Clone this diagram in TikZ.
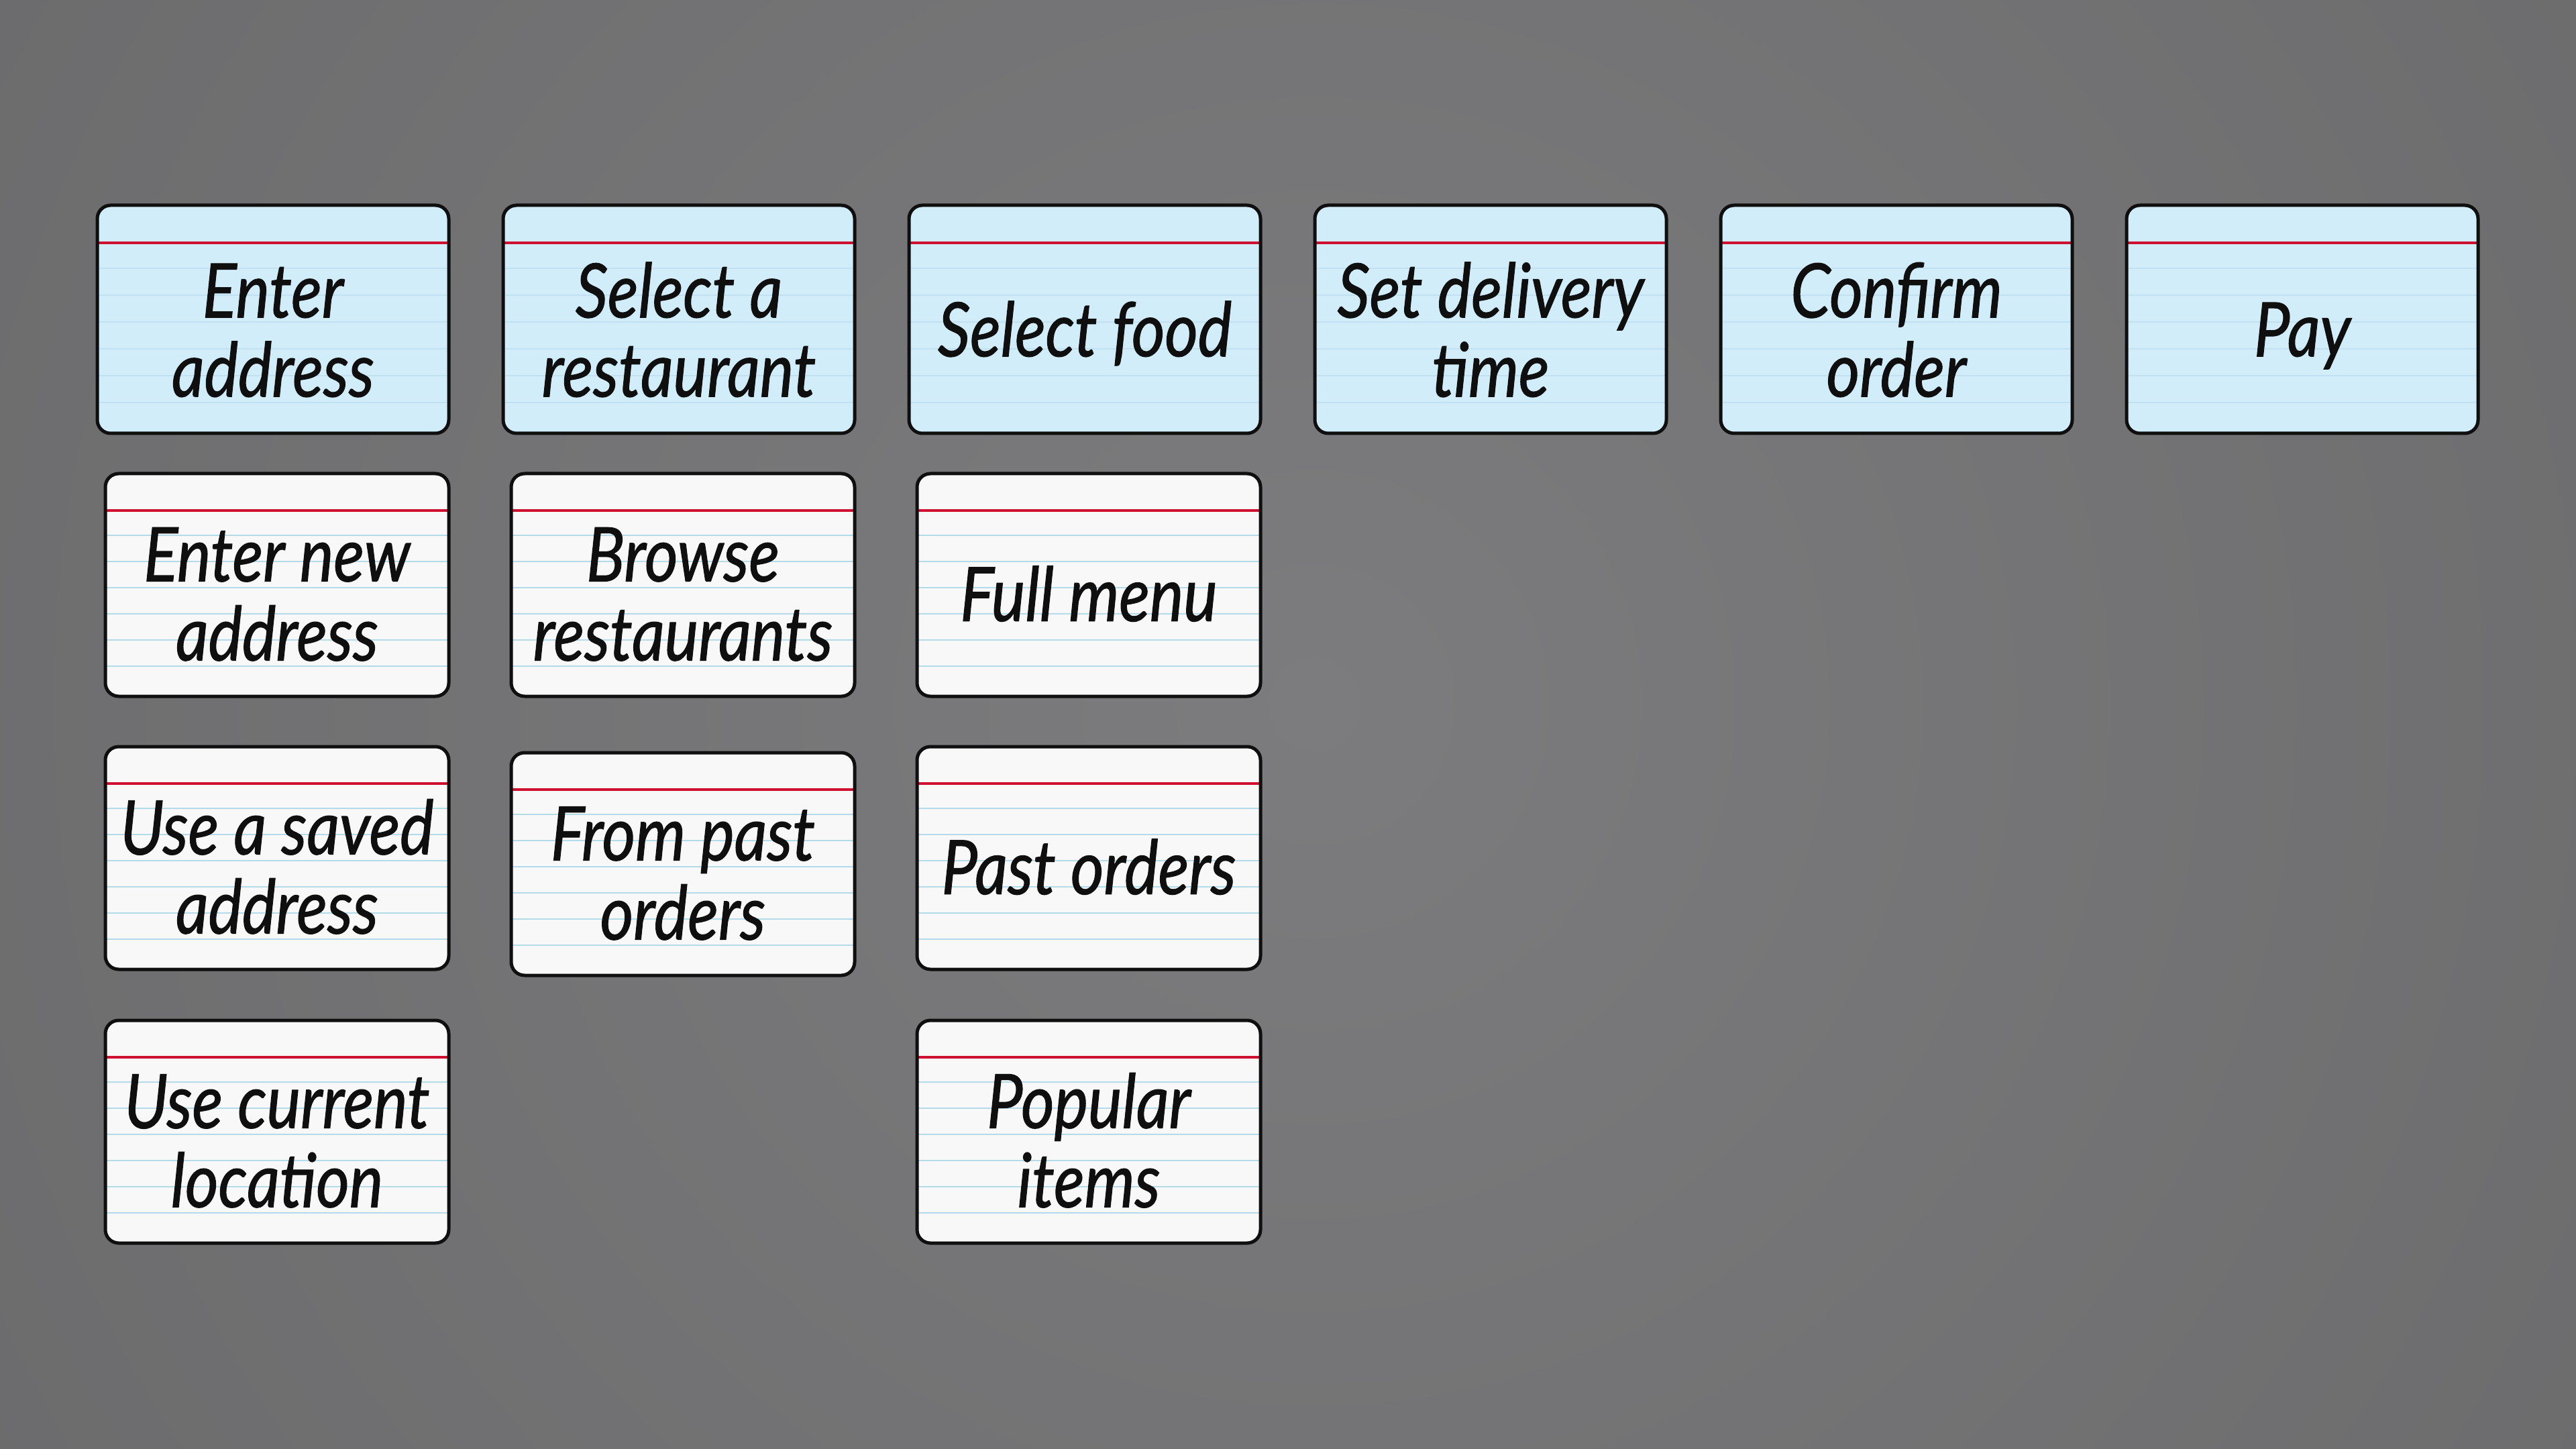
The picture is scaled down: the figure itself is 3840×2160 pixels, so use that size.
\documentclass[tikz,border=0pt]{standalone}
\usepackage{fontspec}
\usetikzlibrary{calc}
\newfontfamily\handfont{Lato}[FakeStretch=0.85, FakeBold=1]
\definecolor{bgin}{RGB}{124,124,126}
\definecolor{bgout}{RGB}{93,93,94}
\definecolor{bluefill}{RGB}{210,237,250}
\definecolor{bluerule}{RGB}{193,225,240}
\definecolor{whitefill}{RGB}{248,248,248}
\definecolor{whiterule}{RGB}{180,220,232}
\definecolor{redrule}{RGB}{208,16,48}
\definecolor{ink}{RGB}{15,15,15}
\pgfdeclareradialshading{bgshade}{\pgfpointorigin}{color(0bp)=(bgin); color(54bp)=(bgout); color(80bp)=(bgout)}
\newcommand\cardfont{\handfont\itshape\fontsize{28}{29.5}\selectfont}
\newcommand\cardrules[1]{%
  \coordinate (ppnw) at (path picture bounding box.north west);
  \coordinate (ppsw) at (path picture bounding box.south west);
  \coordinate (ppne) at (path picture bounding box.north east);
  \coordinate (ppse) at (path picture bounding box.south east);
  \foreach \f in {0.276,0.394,0.512,0.629,0.747,0.865}{
    \draw[#1, line width=0.5pt] ($(ppnw)!\f!(ppsw)$) -- ($(ppne)!\f!(ppse)$);}
  \draw[redrule, line width=1.1pt] ($(ppnw)!0.165!(ppsw)$) -- ($(ppne)!0.165!(ppse)$);
}
\newcommand\cardlabel[3]{%
  \node[cardtext] (#1-t) at ($(#1.north)!#2!(#1.south)$) {\begin{tabular}[b]{@{}c@{}}#3\end{tabular}};}
\tikzset{
  card/.style={rectangle, rounded corners=5pt, draw=ink, line width=1.25pt, inner sep=0pt},
  bluecard/.style={card, fill=bluefill, minimum width=131pt, minimum height=85pt, path picture={\cardrules{bluerule}}},
  whitecard/.style={card, fill=whitefill, minimum width=128pt, minimum height=83pt, path picture={\cardrules{whiterule}}},
  cardtext/.style={anchor=base, inner sep=0pt, text=ink, font=\cardfont},
}
\begin{document}
\begin{tikzpicture}[x=0.25pt, y=-0.25pt]
\useasboundingbox (0,0) rectangle (3840,2160);
\begin{scope}
  \clip (0,0) rectangle (3840,2160);
  \shade[shading=bgshade] (-40,-950) rectangle (3960,3050);
\end{scope}
% top row (blue)
\node[bluecard] (ea) at (407,476) {};
\node[bluecard] (sr) at (1012,476) {};
\node[bluecard] (sf) at (1617,476) {};
\node[bluecard] (sd) at (2222,476) {};
\node[bluecard] (co) at (2827,476) {};
\node[bluecard] (pay) at (3432,476) {};
\cardlabel{ea}{0.834}{Enter\\address}
\cardlabel{sr}{0.834}{Select a\\restaurant}
\cardlabel{sf}{0.66}{Select food}
\cardlabel{sd}{0.834}{Set delivery\\time}
\cardlabel{co}{0.834}{Confirm\\order}
\cardlabel{pay}{0.66}{Pay}
% white cards
\node[whitecard] (ena) at (413,872) {};
\node[whitecard] (usa) at (413,1279) {};
\node[whitecard] (ucl) at (413,1687) {};
\node[whitecard] (br) at (1018,872) {};
\node[whitecard] (fpo) at (1018,1288) {};
\node[whitecard] (fm) at (1623,872) {};
\node[whitecard] (po) at (1623,1279) {};
\node[whitecard] (pi) at (1623,1687) {};
\cardlabel{ena}{0.834}{Enter new\\address}
\cardlabel{usa}{0.834}{Use a saved\\address}
\cardlabel{ucl}{0.834}{Use current\\location}
\cardlabel{br}{0.834}{Browse\\restaurants}
\cardlabel{fpo}{0.834}{From past\\orders}
\cardlabel{fm}{0.66}{Full menu}
\cardlabel{po}{0.66}{Past orders}
\cardlabel{pi}{0.834}{Popular\\items}
\end{tikzpicture}
\end{document}
